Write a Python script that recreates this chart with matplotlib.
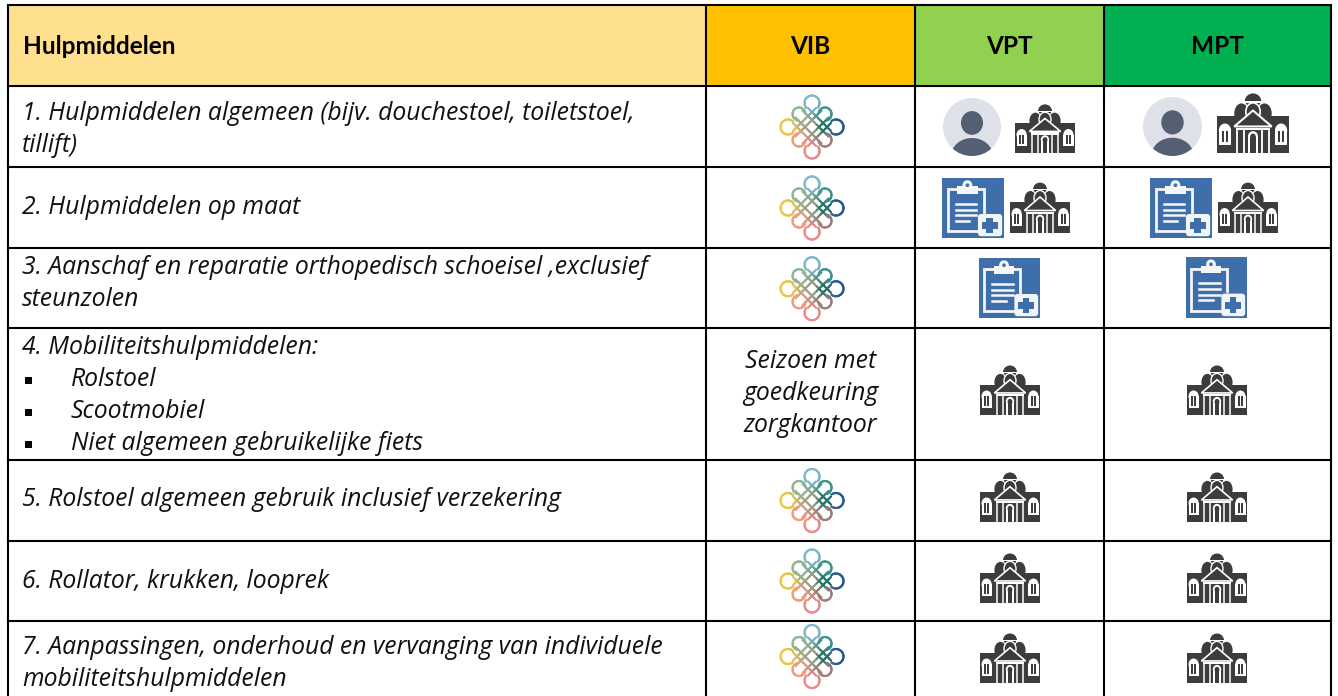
import numpy as np
import matplotlib
matplotlib.use('Agg')
import matplotlib.pyplot as plt
from matplotlib.collections import LineCollection
from matplotlib.patches import Rectangle, Circle, Ellipse, Polygon, FancyBboxPatch, Wedge

plt.rcParams['font.family'] = ['Open Sans', 'DejaVu Sans']

# table content
headers = ['Hulpmiddelen', 'VIB', 'VPT', 'MPT']
header_colors = ['#FFE08F', '#FFC000', '#92D050', '#00B050']
row_lines = [
    ['1. Hulpmiddelen algemeen (bijv. douchestoel, toiletstoel,', 'tillift)'],
    ['2. Hulpmiddelen op maat'],
    ['3. Aanschaf en reparatie orthopedisch schoeisel ,exclusief', 'steunzolen'],
    ['4. Mobiliteitshulpmiddelen:'],
    ['5. Rolstoel algemeen gebruik inclusief verzekering'],
    ['6. Rollator, krukken, looprek'],
    ['7. Aanpassingen, onderhoud en vervanging van individuele', 'mobiliteitshulpmiddelen'],
]
bullets = ['Rolstoel', 'Scootmobiel', 'Niet algemeen gebruikelijke fiets']
vib_note = ['Seizoen met', 'goedkeuring', 'zorgkantoor']
vib_icons = ['logo', 'logo', 'logo', None, 'logo', 'logo', 'logo']

# layout, in pixels of the picture
col_edges = [7.5, 706, 915, 1104, 1331]
row_edges = [5, 85.5, 166.5, 247.5, 328, 460, 541, 621, 692]
line_y = [[113, 145], [207], [268, 300], [347], [500], [581], [648, 680]]
bullet_y = [380, 412, 444]
note_y = [362, 394, 426]

# kind, x0, y0, width, height
vpt_places = [
    [('person', 943, 98, 58, 58), ('building', 1015, 105, 60, 48)],
    [('clip', 942, 178, 62, 60), ('building', 1010, 183, 60, 50)],
    [('clip', 979, 258, 61, 60)],
    [('building', 980, 366, 60, 49)],
    [('building', 980, 473, 60, 49)],
    [('building', 980, 554, 60, 49)],
    [('building', 980, 634, 60, 49)],
]
mpt_places = [
    [('person', 1143, 97, 59, 59), ('building', 1217, 94, 72, 59)],
    [('clip', 1150, 178, 62, 60), ('building', 1218, 183, 60, 50)],
    [('clip', 1186, 257, 61, 61)],
    [('building', 1187, 366, 60, 49)],
    [('building', 1187, 473, 60, 49)],
    [('building', 1187, 554, 60, 49)],
    [('building', 1187, 634, 60, 49)],
]
logo_colors = [
    ((0, -24), '#7FBAD0'), ((24, 0), '#1F5292'), ((0, 24), '#F08A8A'), ((-24, 0), '#F0CB3C'),
    ((-13, -13), '#8FB694'), ((13, -13), '#3F958C'), ((-13, 13), '#F09C82'), ((13, 13), '#A07E7A'),
    ((0, 0), '#A0A088'), ((12, 0), '#1F7565'),
]


def logo_color(x, y):
    pts = np.array([p for p, _ in logo_colors], float)
    cols = np.array([matplotlib.colors.to_rgb(c) for _, c in logo_colors])
    w = 1 / (((pts - [x, y]) ** 2).sum(axis=1) + 4) ** 2
    return (cols * w[:, None]).sum(axis=0) / w.sum()


def draw_logo(ax, cx, cy):
    segs = []
    for oc, r in [((0, -24), 7.5), ((24, 0), 7.5), ((0, 24), 7.5), ((-24, 0), 7.5),
                  ((-13, -13), 6.5), ((13, -13), 6.5), ((-13, 13), 6.5), ((13, 13), 6.5)]:
        t = np.linspace(0, 2 * np.pi, 40)
        xs, ys = oc[0] + r * np.cos(t), oc[1] + r * np.sin(t)
        # the inner part of the loop runs into the lattice
        keep = np.hypot(xs, ys) > np.hypot(*oc) - r * 0.6
        for i in range(len(t) - 1):
            if keep[i] and keep[i + 1]:
                segs.append(((xs[i], ys[i]), (xs[i + 1], ys[i + 1])))
    for off, end in [(-15, 11.5), (-7, 13), (7, 13), (15, 11.5)]:
        ts = np.linspace(-end, end, 12)
        for t0, t1 in zip(ts[:-1], ts[1:]):
            segs.append(((t0 + off / 2, t0 - off / 2), (t1 + off / 2, t1 - off / 2)))
            segs.append(((t0 + off / 2, -t0 + off / 2), (t1 + off / 2, -t1 + off / 2)))
    cols = [logo_color((a[0] + b[0]) / 2, (a[1] + b[1]) / 2) for a, b in segs]
    segs = [((a[0] + cx, a[1] + cy), (b[0] + cx, b[1] + cy)) for a, b in segs]
    ax.add_collection(LineCollection(segs, colors=cols, linewidths=1.6, zorder=3, capstyle='round'))


def draw_person(ax, x0, y0, w, h):
    cx, cy = x0 + w / 2, y0 + h / 2
    disc = Circle((cx, cy), w / 2, color='#DEE1E8', lw=0, zorder=3)
    ax.add_patch(disc)
    ax.add_patch(Ellipse((cx, cy - h * 0.07), w * 0.38, h * 0.41, color='#555F73', lw=0, zorder=4))
    body = Ellipse((cx, cy + h * 0.50), w * 0.72, h * 0.62, color='#555F73', lw=0, zorder=4)
    ax.add_patch(body)
    body.set_clip_path(disc)


def draw_clip(ax, x0, y0, w, h):
    def px(a, b):
        return x0 + a * w, y0 + b * h
    blue = '#3F6FAA'
    ax.add_patch(Rectangle((x0, y0), w, h, color=blue, lw=0, zorder=3))
    # board outline
    ax.plot(*zip(*[px(0.24, 0.19), px(0.09, 0.19), px(0.09, 0.89), px(0.56, 0.89)]),
            color='#F4F6F9', lw=2.0, zorder=4, solid_joinstyle='miter')
    ax.plot(*zip(*[px(0.58, 0.19), px(0.68, 0.19), px(0.68, 0.56)]),
            color='#F4F6F9', lw=2.0, zorder=4, solid_joinstyle='miter')
    ax.add_patch(Polygon([px(0.24, 0.26), px(0.24, 0.14), px(0.58, 0.14), px(0.58, 0.26)],
                         color='#F4F6F9', lw=0, zorder=4))
    ax.add_patch(Circle(px(0.41, 0.12), 0.08 * w, color='#F4F6F9', lw=0, zorder=4))
    ax.add_patch(Circle(px(0.41, 0.12), 0.03 * w, color=blue, lw=0, zorder=5))
    for yy, xe in [(0.43, 0.55), (0.53, 0.55), (0.62, 0.55), (0.71, 0.44)]:
        ax.plot(*zip(*[px(0.22, yy), px(xe, yy)]), color='#F4F6F9', lw=1.8, zorder=4)
    bx, by = px(0.58, 0.60)
    ax.add_patch(FancyBboxPatch((bx, by), 0.39 * w, 0.37 * h, boxstyle='round,pad=0,rounding_size=3',
                                fc='#F2F4F7', ec='none', zorder=5))
    ax.add_patch(Rectangle(px(0.715, 0.66), 0.11 * w, 0.26 * h, color=blue, lw=0, zorder=6))
    ax.add_patch(Rectangle(px(0.64, 0.735), 0.26 * w, 0.11 * h, color=blue, lw=0, zorder=6))


def draw_building(ax, x0, y0, w, h):
    dark = '#3C3C3C'

    def px(a, b):
        return x0 + a * w, y0 + b * h
    lw = 1.0 * w / 60
    # side wings and domes
    ax.add_patch(Rectangle(px(0, 0.38), w, 0.62 * h, color=dark, lw=0, zorder=3))
    ax.add_patch(Wedge(px(0.5, 0.13), 0.115 * w, 180, 360, color=dark, lw=0, zorder=3))
    ax.add_patch(Ellipse(px(0.5, 0.115), 0.22 * w, 0.22 * h, color=dark, lw=0, zorder=3))
    ax.add_patch(Rectangle(px(0.38, 0.115), 0.24 * w, 0.03 * h, color='white', lw=0, zorder=3.5))
    ax.add_patch(Ellipse(px(0.34, 0.33), 0.20 * w, 0.34 * h, color=dark, lw=0, zorder=3))
    ax.add_patch(Ellipse(px(0.66, 0.33), 0.20 * w, 0.34 * h, color=dark, lw=0, zorder=3))
    ax.add_patch(Ellipse(px(0.5, 0.30), 0.20 * w, 0.30 * h, fc=dark, ec='white', lw=lw, zorder=3.6))
    # pediment
    ax.add_patch(Polygon([px(0.24, 0.55), px(0.5, 0.28), px(0.76, 0.55)], closed=True,
                         fc=dark, ec='white', lw=lw * 1.2, zorder=4))
    ax.add_patch(Rectangle(px(0.27, 0.57), 0.46 * w, 0.045 * h, color='white', lw=0, zorder=4))
    # columns and door
    for a in [0.28, 0.38, 0.62, 0.72]:
        ax.plot(*zip(*[px(a, 0.62), px(a, 1.0)]), color='white', lw=lw * 1.1, zorder=4)
    ax.add_patch(Ellipse(px(0.5, 0.72), 0.14 * w, 0.18 * h, fc='white', lw=0, zorder=4))
    ax.add_patch(Rectangle(px(0.43, 0.72), 0.14 * w, 0.28 * h, fc='white', lw=0, zorder=4))
    ax.add_patch(Ellipse(px(0.5, 0.73), 0.08 * w, 0.12 * h, fc=dark, lw=0, zorder=4.1))
    ax.add_patch(Rectangle(px(0.46, 0.73), 0.08 * w, 0.27 * h, fc=dark, lw=0, zorder=4.1))
    # side windows
    for a in [0.11, 0.89]:
        ax.add_patch(Rectangle(px(a - 0.085, 0.62), 0.17 * w, 0.24 * h, color='white', lw=0, zorder=4))
        ax.add_patch(Ellipse(px(a, 0.62), 0.17 * w, 0.24 * h, color='white', lw=0, zorder=4))
        ax.add_patch(Rectangle(px(a - 0.045, 0.62), 0.035 * w, 0.19 * h, color=dark, lw=0, zorder=5))
        ax.add_patch(Rectangle(px(a + 0.01, 0.62), 0.035 * w, 0.19 * h, color=dark, lw=0, zorder=5))


drawers = {'person': draw_person, 'clip': draw_clip, 'building': draw_building}

fig = plt.figure(figsize=(13.38, 6.96), dpi=100)
ax = fig.add_axes([0, 0, 1, 1])
ax.set_xlim(0, 1338)
ax.set_ylim(696, 0)
ax.axis('off')

TEXT_SIZE = 17.8
HEAD_SIZE = 17.6

# header fills
for i, col in enumerate(header_colors):
    ax.add_patch(Rectangle((col_edges[i], row_edges[0]), col_edges[i + 1] - col_edges[i],
                           row_edges[1] - row_edges[0], color=col, lw=0, zorder=1))
ax.text(23, 46, headers[0], fontsize=HEAD_SIZE, family=['Lato', 'DejaVu Sans'], fontweight='bold',
        va='center', color='black', zorder=6)
for i in range(1, 4):
    ax.text((col_edges[i] + col_edges[i + 1]) / 2, 46, headers[i], fontsize=HEAD_SIZE,
            family=['Lato', 'DejaVu Sans'], fontweight='bold', va='center', ha='center',
            color='black', zorder=6)

# rows
for lines, ys in zip(row_lines, line_y):
    for s, y in zip(lines, ys):
        ax.text(22, y, s, fontsize=TEXT_SIZE, style='italic', va='center', color='#111111', zorder=6)
for s, y in zip(bullets, bullet_y):
    ax.add_patch(Rectangle((25, y - 3.5), 7, 7, color='black', lw=0, zorder=6))
    ax.text(71, y, s, fontsize=TEXT_SIZE, style='italic', va='center', color='#111111', zorder=6)
for s, y in zip(vib_note, note_y):
    ax.text(810.5, y, s, fontsize=TEXT_SIZE, style='italic', va='center', ha='center', color='#111111', zorder=6)

# icons
for r, icon in enumerate(vib_icons):
    if icon == 'logo':
        draw_logo(ax, 812, (row_edges[r + 1] + row_edges[r + 2]) / 2 + (1 if r < 3 else 0))
for places in [vpt_places, mpt_places]:
    for row in places:
        for kind, x0, y0, w, h in row:
            drawers[kind](ax, x0, y0, w, h)

# grid
for x in col_edges:
    ax.plot([x, x], [row_edges[0], 696], color='black', lw=1.5, zorder=7, solid_capstyle='butt')
for y in row_edges[:-1]:
    ax.plot([col_edges[0], col_edges[-1]], [y, y], color='black', lw=1.5, zorder=7, solid_capstyle='projecting')

plt.savefig('out.png', dpi=100)
